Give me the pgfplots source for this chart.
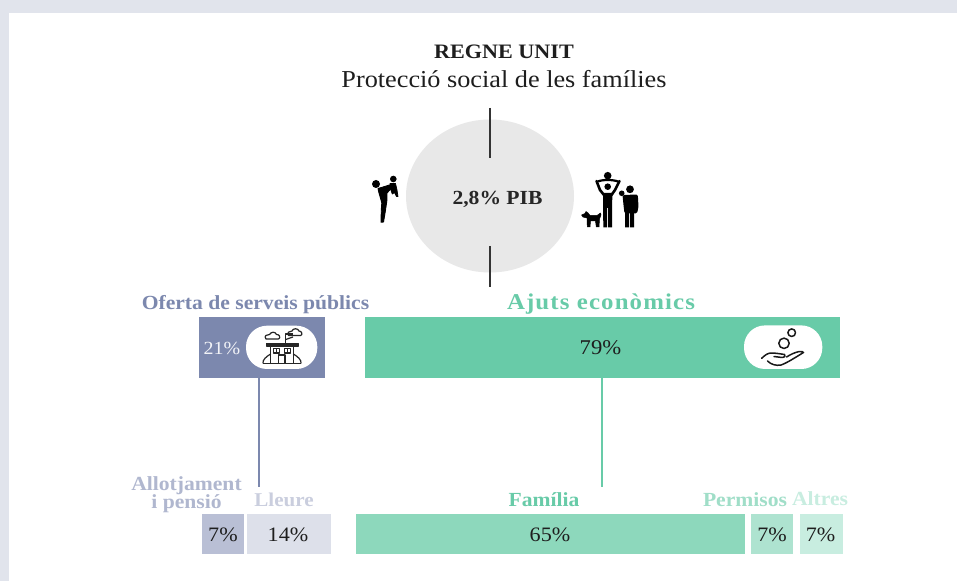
\documentclass[border=0pt]{standalone}
\usepackage{pgfplots}
\pgfplotsset{compat=1.18}
\usepackage{fontspec}
\setmainfont[FakeStretch=1.08]{Liberation Serif}
\newfontfamily\spaced[FakeStretch=1.1,LetterSpace=5]{Liberation Serif}
\definecolor{page}{HTML}{E1E4EC}
\definecolor{blueA}{HTML}{7C88AE}
\definecolor{blueB}{HTML}{B9BFD5}
\definecolor{blueC}{HTML}{DDE0EA}
\definecolor{greenA}{HTML}{68CBA8}
\definecolor{greenB}{HTML}{8DD8BC}
\definecolor{greenC}{HTML}{AEE3D0}
\definecolor{greenD}{HTML}{C8EDE0}
\definecolor{ink}{HTML}{1E1E1E}
\pgfplotsset{rectbar/.style={fill=#1,draw=none,forget plot}}
\begin{document}
\begin{tikzpicture}
\begin{axis}[at={(0,0)},anchor=south west,scale only axis,width=957pt,height=581pt,
  xmin=0,xmax=957,ymin=0,ymax=581,y dir=reverse,hide axis,clip=false]
% background and panel
\addplot[rectbar=page] coordinates {(0,0)(957,0)(957,581)(0,581)} --cycle;
\addplot[rectbar=white] coordinates {(9,13)(957,13)(957,581)(9,581)} --cycle;
% main bars: 21 %, 79 %
\addplot[rectbar=blueA] coordinates {(199,317)(325,317)(325,377.5)(199,377.5)} --cycle;
\addplot[rectbar=greenA] coordinates {(365,317)(839.5,317)(839.5,377.5)(365,377.5)} --cycle;
% detail bars: 7, 14, 65, 7, 7 %
\addplot[rectbar=blueB] coordinates {(202,514)(244,514)(244,554)(202,554)} --cycle;
\addplot[rectbar=blueC] coordinates {(246.5,514)(330.5,514)(330.5,554)(246.5,554)} --cycle;
\addplot[rectbar=greenB] coordinates {(356,514)(745,514)(745,554)(356,554)} --cycle;
\addplot[rectbar=greenC] coordinates {(750.7,514)(793,514)(793,554)(750.7,554)} --cycle;
\addplot[rectbar=greenD] coordinates {(800,514)(842.5,514)(842.5,554)(800,554)} --cycle;
% connectors
\addplot[blueA,line width=1.8pt,forget plot] coordinates {(259.3,377)(259.3,487)};
\addplot[greenA,line width=1.8pt,forget plot] coordinates {(602,377)(602,487)};
\end{axis}
\begin{scope}[x=1pt,y=-1pt,yshift=581pt]
\fill[black!9] (490,196) ellipse [x radius=84,y radius=76.5];
\draw[black!80,line width=1.8pt] (490,108)--(490,158) (490,246)--(490,287);
% texts
\node[font=\fontsize{20.5}{24}\selectfont\bfseries,text=ink] at (504,52) {REGNE UNIT};
\node[font=\fontsize{24.3}{28}\selectfont,text=ink] at (504,79) {Protecció social de les famílies};
\node[font=\fontsize{20}{22}\selectfont\bfseries,text=black!85] at (497.5,199.5) {2,8\% PIB};
\node[font=\fontsize{20}{22}\selectfont\bfseries,text=blueA] at (255.5,304.5) {Oferta de serveis públics};
\node[font=\spaced\fontsize{22.6}{24}\selectfont\bfseries,text=greenA] at (601,304.5) {Ajuts econòmics};
\node[font=\fontsize{18.5}{22}\selectfont,text=white!90!blueA] at (222,348) {21\%};
\node[font=\fontsize{21}{24}\selectfont,text=ink] at (600.5,348) {79\%};
\node[font=\fontsize{20}{22}\selectfont\bfseries,text=blueB!85!blueA] at (186.5,485.5) {Allotjament};
\node[font=\fontsize{20}{22}\selectfont\bfseries,text=blueB!85!blueA] at (186.5,504) {i pensió};
\node[font=\fontsize{19.5}{22}\selectfont\bfseries,text=blueC!80!blueA] at (284,500) {Lleure};
\node[font=\fontsize{20}{22}\selectfont\bfseries,text=greenA] at (544,500) {Família};
\node[font=\fontsize{20}{22}\selectfont\bfseries,text=greenC!80!greenA] at (745,500) {Permisos};
\node[font=\fontsize{20}{22}\selectfont\bfseries,text=greenD] at (820,499) {Altres};
\foreach \x/\t in {223/7,288/14,550/65,772/7,820.5/7}
  \node[font=\fontsize{20.5}{24}\selectfont,text=ink] at (\x,534.5) {\t\%};
% pills
\fill[white,rounded corners=21pt] (246,325.7) rectangle (317.3,369);
\fill[white,rounded corners=21pt] (744,325.4) rectangle (822.3,369);
% adult with child
\fill[black] (376,184) circle (4) (393.3,179) circle (3.3);
\filldraw[black,line width=.9pt,line join=round] (378,188.5)--(381.5,187.5)--(391,184.5)--(392,187.5)--(387,193)--(386.8,201)--(385.5,210)--(383.5,222)--(381,222.2)--(381.3,210)--(381.8,203)--(380.5,198)--(379,193)--cycle;
\filldraw[black,line width=.7pt,line join=round] (390,183.5)--(395.5,183.5)--(397,190)--(398,196.5)--(396.5,196.5)--(394.5,192.5)--(392.3,194)--(391,190.5)--cycle;
% family
\fill[black] (607.7,175.7) circle (3.8) (607.7,186.7) circle (3.3) (630,189.3) circle (3.9) (621.7,193.3) circle (2.8);
\draw[black,line width=2.6pt,line join=round,line cap=round] (596.5,181)--(600,190)--(604,195) (619.5,181)--(615,190)--(611.5,195);
\draw[black,line width=2.2pt] (598,181.5) .. controls (602,179.5) and (613,179.5) .. (618,181.5);
\fill[black] (603,193)--(612.3,193)--(612,227.5)--(608.2,227.5)--(608,208)--(607.2,208)--(607,227.5)--(603.3,227.5)--cycle;
\fill[black,rounded corners=1.5pt] (622.5,195)--(637.8,194.5)--(638.5,207)--(637,213.5)--(624.5,213.5)--(623.5,205)--cycle;
\fill[black] (625.2,213) rectangle (629,227.5) (630,213) rectangle (634,227.5);
% dog
\filldraw[black,line width=.5pt,line join=round] (581.5,215)--(585,213.5)--(586,211.5)--(588,213)--(590,215.5)--(597,215.5)--(600.5,213)--(601,215)--(599.5,219)--(599,227)--(596.3,227)--(595.5,221)--(590.5,221)--(590,227)--(587.3,227)--(587,218)--(583,217)--cycle;
% house
\begin{scope}[black!85,line width=1.2pt,line join=round]
\draw[fill=white] (266,339) .. controls (263.5,336) and (267,334) .. (269.5,334.5) .. controls (271,331.5) and (275.5,331.5) .. (276.5,334.5) .. controls (279.5,334) and (281,338) .. (278.5,339) --cycle;
\draw[fill=white] (288.5,335.5) .. controls (286.5,333) and (289.5,330.5) .. (292,331) .. controls (293,328) and (298,328) .. (299,331) .. controls (302,331) and (303,335) .. (300.5,335.5) --cycle;
\draw (285.7,343)--(285.7,334)--(293,334);
\draw (285.7,339.5)--(293,337);
\draw[fill=black!85] (266.7,343.5) rectangle (298.3,346);
\draw (270.7,346)--(270.7,363.5) (293.3,346)--(293.3,363.5);
\draw (263,363.5) -- (301,363.5);
\draw (263,363.5) .. controls (262,360) and (267,356) .. (270.7,354) (293.3,354) .. controls (297,356) and (302,360) .. (301,363.5);
\draw (273.3,348.5) rectangle (279.3,353) (276.3,348.5)--(276.3,353);
\draw (284.5,348.5) rectangle (290.5,353) (287.5,348.5)--(287.5,353);
\draw (278.5,363.5)--(278.5,355)--(285,355)--(285,363.5);
\end{scope}
% hand and coins
\begin{scope}[black!90,line width=1.5pt,line cap=round,line join=round]
\draw (791.7,332.7) circle (3.8);
\draw (784,343.3) circle (5.2);
\draw (761.7,358.3) .. controls (765,355) and (768,353) .. (771,353) .. controls (776,353) and (781,354) .. (784.5,354.5) .. controls (786,355) and (785,357.5) .. (782,357.5) -- (774,356.5);
\draw (767.5,361) .. controls (771,364.5) and (776,366) .. (781,365) .. controls (787,363) and (796,357) .. (803.5,352.5) .. controls (803,350.5) and (796,351) .. (786.5,357);
\end{scope}
\end{scope}
\end{tikzpicture}
\end{document}
